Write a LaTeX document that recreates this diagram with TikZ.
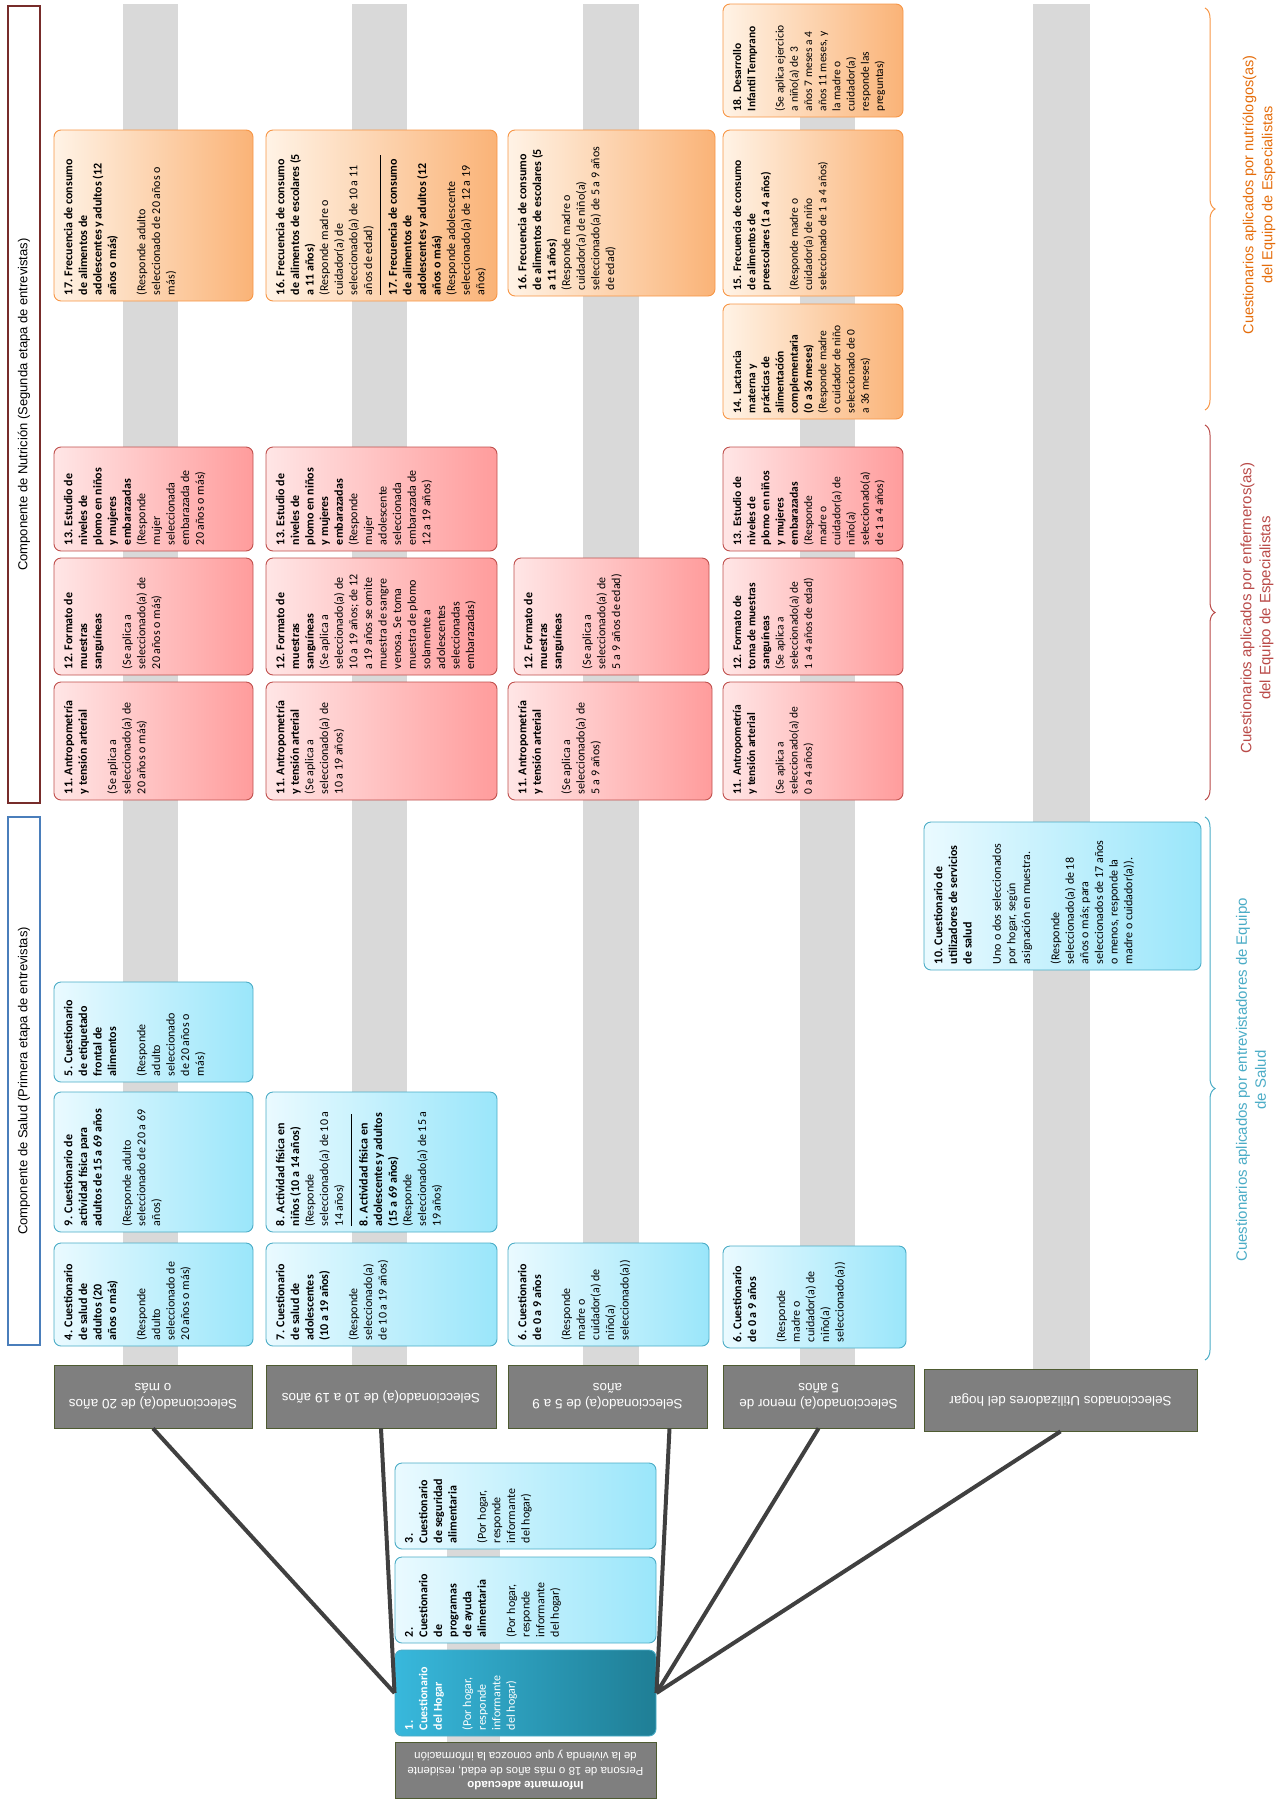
\documentclass[tikz,border=0pt]{standalone}
\usepackage{fontspec}
\setmainfont{Carlito}
\newfontfamily\arial{Liberation Sans}
\usetikzlibrary{decorations.pathreplacing}

\definecolor{rojoclaro}{HTML}{FFE6E6}
\definecolor{rojo}{HTML}{FF9C9C}
\definecolor{rojoborde}{HTML}{C0504D}
\definecolor{naranjaclaro}{HTML}{FFF3E6}
\definecolor{naranja}{HTML}{FAB377}
\definecolor{naranjaborde}{HTML}{F79646}
\definecolor{azulclaro}{HTML}{EAFAFF}
\definecolor{azul}{HTML}{9AE6FA}
\definecolor{azulborde}{HTML}{4BACC6}
\definecolor{hogarclaro}{HTML}{38B8DC}
\definecolor{hogaroscuro}{HTML}{1F7E95}
\definecolor{gris}{HTML}{7F7F7F}
\definecolor{grisborde}{HTML}{4E5B31}
\definecolor{banda}{HTML}{D9D9D9}
\definecolor{conector}{HTML}{404040}
\definecolor{marconutri}{HTML}{772C2A}
\definecolor{marcosalud}{HTML}{4A7EBB}
\definecolor{textonaranja}{HTML}{E46C0A}
\definecolor{textorojo}{HTML}{B94A48}
\definecolor{textoazul}{HTML}{4BACC6}

% text block of a box: width, height, text
\newcommand{\qt}[3]{\makebox[#1pt][l]{\parbox[c][#2pt][t]{250pt}{\raggedright #3}}}

\tikzset{
  caja/.style={rotate=90, rounded corners=7pt, line width=0.9pt, inner xsep=6pt, inner ysep=10pt,
    font=\fontsize{12}{14.6}\selectfont},
  roja/.style={caja, draw=rojoborde, left color=rojoclaro, right color=rojo},
  naranja/.style={caja, draw=naranjaborde, left color=naranjaclaro, right color=naranja},
  azul/.style={caja, draw=azulborde, left color=azulclaro, right color=azul},
  hogar/.style={caja, draw=azulborde, left color=hogarclaro, right color=hogaroscuro, text=white},
  chica/.style={font=\fontsize{11.5}{14.2}\selectfont},
  grupo/.style={rotate=180, draw=grisborde, fill=gris, line width=0.8pt, text=white, align=center,
    inner sep=0pt, font=\arial\fontsize{13.5}{16.5}\selectfont},
  marco/.style={rotate=90, draw, line width=1.6pt, inner sep=0pt, font=\arial\fontsize{13}{16}\selectfont},
  etiqueta/.style={rotate=90, align=center, font=\arial\fontsize{15}{19}\selectfont},
  conexion/.style={draw=conector, line width=4pt},
  llave/.style={decorate, decoration={brace, amplitude=10pt}, line width=1pt},
}

\begin{document}
\begin{tikzpicture}[x=1pt, y=-1pt]
  \useasboundingbox (0,0) rectangle (1277,1799);

  % bands
  \fill[banda] (123,4) rectangle (178,1365);
  \fill[banda] (352,4) rectangle (407,1365);
  \fill[banda] (583,4) rectangle (639,1365);
  \fill[banda] (800,4) rectangle (855,1365);
  \fill[banda] (1033,4) rectangle (1090,1369);
  \fill[banda] (447,1463) rectangle (500,1745);

  % components
  \node[marco, draw=marconutri, minimum width=797pt, minimum height=32pt] (nutricion) at (24,404.5)
    {Componente de Nutrición (Segunda etapa de entrevistas)};
  \node[marco, draw=marcosalud, minimum width=528pt, minimum height=32pt] (salud) at (24,1081)
    {Componente de Salud (Primera etapa de entrevistas)};

  % 20 years or more
  \node[naranja] (c1n17) at (153.5,215.5) {\qt{159}{179}{\textbf{17. Frecuencia de consumo\\de alimentos de\\adolescentes y adultos (12\\años o más)}\\[\baselineskip](Responde adulto\\seleccionado de 20 años o\\más)}};
  \node[roja] (c1n13) at (153.5,499) {\qt{92}{179}{\textbf{13. Estudio de\\niveles de\\plomo en niños\\y mujeres\\embarazadas}\\(Responde\\mujer\\seleccionada\\embarazada de\\20 años o más)}};
  \node[roja] (c1n12) at (153.5,616.5) {\qt{105}{179}{\textbf{12. Formato de\\muestras\\sanguíneas}\\[\baselineskip](Se aplica a\\seleccionado(a) de\\20 años o más)}};
  \node[roja] (c1n11) at (153.5,741) {\qt{106}{179}{\textbf{11. Antropometría\\y tensión arterial}\\[\baselineskip](Se aplica a\\seleccionado(a) de\\20 años o más)}};
  \node[azul] (c1n5) at (153.5,1032) {\qt{88}{179}{\textbf{5. Cuestionario\\de etiquetado\\frontal de\\alimentos}\\[\baselineskip](Responde\\adulto\\seleccionado\\de 20 años o\\más)}};
  \node[azul] (c1n9) at (153.5,1162) {\qt{128}{179}{\textbf{9. Cuestionario de\\actividad física para\\adultos de 15 a 69 años}\\[\baselineskip](Responde adulto\\seleccionado de 20 a 69\\años)}};
  \node[azul] (c1n4) at (153.5,1294.5) {\qt{91}{179}{\textbf{4. Cuestionario\\de salud de\\adultos (20\\años o más)}\\[\baselineskip](Responde\\adulto\\seleccionado de\\20 años o más)}};
  \node[grupo, minimum width=198pt, minimum height=63pt] (sel20) at (153,1396.5) {Seleccionado(a) de 20 años\\o más};

  % 10 to 19 years
  \node[naranja] (c2n16) at (381.5,215.5) {\qt{159}{211}{\textbf{16. Frecuencia de consumo\\de alimentos de escolares (5\\a 11 años)}\\(Responde madre o\\cuidador(a) de\\seleccionado(a) de 10 a 11\\años de edad)\par\vspace{6pt}\hrule width 140pt height 0.7pt\vspace{8pt}\textbf{17. Frecuencia de consumo\\de alimentos de\\adolescentes y adultos (12\\años o más)}\\(Responde adolescente\\seleccionado(a) de 12 a 19\\años)}};
  \node[roja] (c2n13) at (381.5,499) {\qt{92}{211}{\textbf{13. Estudio de\\niveles de\\plomo en niños\\y mujeres\\embarazadas}\\(Responde\\mujer\\adolescente\\seleccionada\\embarazada de\\12 a 19 años)}};
  \node[roja] (c2n12) at (381.5,616.5) {\qt{105}{211}{\textbf{12. Formato de\\muestras\\sanguíneas}\\(Se aplica a\\seleccionado(a) de\\10 a 19 años; de 12\\a 19 años se omite\\muestra de sangre\\venosa. Se toma\\muestra de plomo\\solamente a\\adolescentes\\seleccionadas\\embarazadas)}};
  \node[roja] (c2n11) at (381.5,741) {\qt{106}{211}{\textbf{11. Antropometría\\y tensión arterial}\\(Se aplica a\\seleccionado(a) de\\10 a 19 años)}};
  \node[azul] (c2n8) at (381.5,1162) {\qt{128}{211}{\textbf{8. Actividad física en\\niños (10 a 14 años)}\\(Responde\\seleccionado(a) de 10 a\\14 años)\par\vspace{6pt}\hrule width 112pt height 0.7pt\vspace{8pt}\textbf{8. Actividad física en\\adolescentes y adultos\\(15 a 69 años)}\\(Responde\\seleccionado(a) de 15 a\\19 años)}};
  \node[azul] (c2n7) at (381.5,1294.5) {\qt{91}{211}{\textbf{7. Cuestionario\\de salud de\\adolescentes\\(10 a 19 años)}\\[\baselineskip](Responde\\seleccionado(a)\\de 10 a 19 años)}};
  \node[grupo, minimum width=230pt, minimum height=63pt] (sel10) at (381,1396.5) {Seleccionado(a) de 10 a 19 años};

  % 5 to 9 years
  \node[naranja] (c3n16) at (611.5,213) {\qt{154}{187}{\textbf{16. Frecuencia de consumo\\de alimentos de escolares (5\\a 11 años)}\\(Responde madre o\\cuidador(a) de niño(a)\\seleccionado(a) de 5 a 9 años\\de edad)}};
  \node[roja] (c3n12) at (611.5,616.5) {\qt{105}{175}{\textbf{12. Formato de\\muestras\\sanguíneas}\\[\baselineskip](Se aplica a\\seleccionado(a) de\\5 a 9 años de edad)}};
  \node[roja] (c3n11) at (610,741) {\qt{106}{184}{\textbf{11. Antropometría\\y tensión arterial}\\[\baselineskip](Se aplica a\\seleccionado(a) de\\5 a 9 años)}};
  \node[azul] (c3n6) at (608.5,1294.5) {\qt{91}{181}{\textbf{6. Cuestionario\\de 0 a 9 años}\\[\baselineskip](Responde\\madre o\\cuidador(a) de\\niño(a)\\seleccionado(a))}};
  \node[grupo, minimum width=199pt, minimum height=63pt] (sel59) at (607.5,1396.5) {Seleccionado(a) de 5 a 9\\años};

  % under 5 years
  \node[naranja, chica] (c4n18) at (813,60.5) {\qt{101}{160}{\textbf{18. Desarrollo\\Infantil Temprano}\\[\baselineskip](Se aplica ejercicio\\a niño(a) de 3\\años 7 meses a 4\\años 11 meses, y\\la madre o\\cuidador(a)\\responde las\\preguntas)}};
  \node[naranja, chica] (c4n15) at (813,213) {\qt{154}{160}{\textbf{15. Frecuencia de consumo\\de alimentos de\\preescolares (1 a 4 años)}\\[\baselineskip](Responde madre o\\cuidador(a) de niño\\seleccionado de 1 a 4 años)}};
  \node[naranja, chica] (c4n14) at (813,361.5) {\qt{103}{160}{\textbf{14. Lactancia\\materna y\\prácticas de\\alimentación\\complementaria\\(0 a 36 meses)}\\(Responde madre\\o cuidador de niño\\seleccionado de 0\\a 36 meses)}};
  \node[roja, chica] (c4n13) at (813,499) {\qt{92}{160}{\textbf{13. Estudio de\\niveles de\\plomo en niños\\y mujeres\\embarazadas}\\(Responde\\madre o\\cuidador(a) de\\niño(a)\\seleccionado(a)\\de 1 a 4 años)}};
  \node[roja, chica] (c4n12) at (813,616.5) {\qt{105}{160}{\textbf{12. Formato de\\toma de muestras\\sanguíneas}\\(Se aplica a\\seleccionado(a) de\\1 a 4 años de edad)}};
  \node[roja, chica] (c4n11) at (813,741) {\qt{106}{160}{\textbf{11. Antropometría\\y tensión arterial}\\[\baselineskip](Se aplica a\\seleccionado(a) de\\0 a 4 años)}};
  \node[azul] (c4n6) at (814.5,1297) {\qt{90}{163}{\textbf{6. Cuestionario\\de 0 a 9 años}\\[\baselineskip](Responde\\madre o\\cuidador(a) de\\niño(a)\\seleccionado(a))}};
  \node[grupo, minimum width=191pt, minimum height=63pt] (sel04) at (818.5,1396.5) {Seleccionado(a) menor de\\5 años};

  % users of health services
  \node[azul] (c5n10) at (1062.5,896) {\qt{136}{257}{\textbf{10. Cuestionario de\\utilizadores de servicios\\de salud}\\[\baselineskip]Uno o dos seleccionados\\por hogar, según\\asignación en muestra.\\[\baselineskip](Responde\\seleccionado(a) de 18\\años o más; para\\seleccionados de 17 años\\o menos, responde la\\madre o cuidador(a)).}};
  \node[grupo, minimum width=273pt, minimum height=62pt] (selut) at (1060.5,1400) {Seleccionados Utilizadores del hogar};

  % household
  \node[azul] (h3) at (525.5,1506) {\qt{74}{241}{\textbf{3.\\Cuestionario\\de seguridad\\alimentaria}\\[\baselineskip](Por hogar,\\responde\\informante\\del hogar)}};
  \node[azul] (h2) at (525.5,1600) {\qt{74}{241}{\textbf{2.\\Cuestionario\\de\\programas\\de ayuda\\alimentaria}\\[\baselineskip](Por hogar,\\responde\\informante\\del hogar)}};
  \node[hogar] (h1) at (525.5,1693) {\qt{74}{241}{\textbf{1.\\Cuestionario\\del Hogar}\\[\baselineskip](Por hogar,\\responde\\informante\\del hogar)}};
  \node[grupo, minimum width=261pt, minimum height=56pt, font=\arial\fontsize{11.5}{14.5}\selectfont] (informante) at (525.5,1770)
    {\textbf{Informante adecuado}\\Persona de 18 o más años de edad, residente\\de la vivienda y que conozca la información};

  % connectors
  \draw[conexion] (sel20.north) -- (h1.north);
  \draw[conexion] (sel10.north) -- (h1.north);
  \draw[conexion] ([xshift=62pt]sel59.north) -- (h1.south);
  \draw[conexion] (sel04.north) -- (h1.south);
  \draw[conexion] (selut.north) -- (h1.south);

  % braces
  \draw[llave, draw=naranjaborde] (1205,8) -- (1205,410);
  \draw[llave, draw=textorojo] (1205,425) -- (1205,800);
  \draw[llave, draw=textoazul] (1205,817) -- (1205,1360);
  \node[etiqueta, text=textonaranja, font=\arial\fontsize{14.5}{19}\selectfont] (nutriologos) at (1259,195) {Cuestionarios aplicados por nutriólogos(as)\\del Equipo de Especialistas};
  \node[etiqueta, text=textorojo] (enfermeros) at (1257,608) {Cuestionarios aplicados por enfermeros(as)\\del Equipo de Especialistas};
  \node[etiqueta, text=textoazul] (entrevistadores) at (1251,1080) {Cuestionarios aplicados por entrevistadores de Equipo\\de Salud};
\end{tikzpicture}
\end{document}
